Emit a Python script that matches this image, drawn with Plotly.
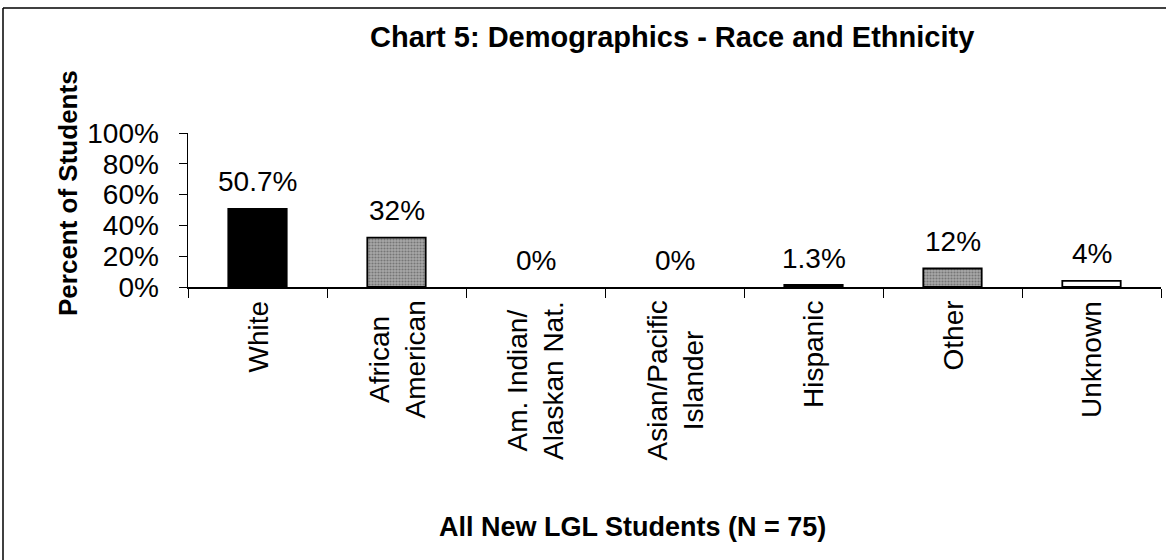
import plotly.graph_objects as go

categories = ["White", "African<br>American", "Am. Indian/<br>Alaskan Nat.", "Asian/Pacific<br>Islander",
              "Hispanic", "Other", "Unknown"]
values = [50.7, 32, 0, 0, 1.3, 12, 4]
labels = ["50.7%", "32%", "0%", "0%", "1.3%", "12%", "4%"]
fills = ["#000000", "#a8a8a8", "#a8a8a8", "#a8a8a8", "#000000", "#a8a8a8", "#ffffff"]
patterns = ["", ".", ".", ".", "", ".", ""]
ytick_vals = [0, 20, 40, 60, 80, 100]
ytick_text = ["0%", "20%", "40%", "60%", "80%", "100%"]

FONT = "Arial, Liberation Sans, sans-serif"

fig = go.Figure()
fig.add_trace(go.Bar(
    x=categories, y=values,
    marker=dict(color=fills, line=dict(color="black", width=[1.8 if v > 0 else 0 for v in values]),
                pattern=dict(shape=patterns, fgcolor="#555555", size=3, solidity=0.4)),
    width=0.42, hoverinfo="skip",
))

for c, v, t in zip(categories, values, labels):
    fig.add_annotation(x=c, y=v, text=t, showarrow=False, xanchor="center", yanchor="middle", yshift=27,
                       font=dict(family=FONT, size=28, color="black"))
    fig.add_annotation(x=c, y=0, text=c, showarrow=False, xanchor="center", yanchor="top", yshift=-12,
                       textangle=-90, align="center", font=dict(family=FONT, size=28, color="black"))

W, H = 1166, 560
L, R, T, B = 188, 1161, 133, 287
pw, ph = R - L, B - T

def px(x):
    return (x - L) / pw

def py(y):
    return (B - y) / ph

fig.add_annotation(xref="paper", yref="paper", x=px(672), y=py(37), xanchor="center", yanchor="middle",
                   text="<b>Chart 5: Demographics - Race and Ethnicity</b>",
                   showarrow=False, font=dict(family=FONT, size=29, color="black"))
fig.add_annotation(xref="paper", yref="paper", x=px(632), y=py(527), xanchor="center", yanchor="middle",
                   text="<b>All New LGL Students (N = 75)</b>",
                   showarrow=False, font=dict(family=FONT, size=27, color="black"))
fig.add_annotation(xref="paper", yref="paper", x=px(68), y=py(193), xanchor="center", yanchor="middle",
                   text="<b>Percent of Students</b>", textangle=-90,
                   showarrow=False, font=dict(family=FONT, size=26, color="black"))

fig.add_shape(type="line", xref="paper", yref="paper", x0=px(3), x1=px(1166), y0=py(8), y1=py(8),
              line=dict(color="black", width=1.5))
fig.add_shape(type="line", xref="paper", yref="paper", x0=px(3), x1=px(3), y0=py(8), y1=py(562),
              line=dict(color="black", width=1.5))

fig.update_layout(
    width=W, height=H,
    margin=dict(l=L, r=W - R, t=T, b=H - B, pad=0),
    paper_bgcolor="white", plot_bgcolor="white",
    showlegend=False,
    font=dict(family=FONT, size=28, color="black"),
    bargap=0.58,
)
fig.update_xaxes(showline=True, linecolor="black", linewidth=1.5, ticks="outside", tickson="boundaries",
                 ticklen=9, tickcolor="black", showticklabels=False, showgrid=False, range=[-0.5, 6.5])
fig.update_yaxes(range=[0, 100], tickvals=ytick_vals, ticktext=ytick_text, showline=True, linecolor="black",
                 linewidth=1.5, ticks="outside", ticklen=8, tickcolor="black", showgrid=False, zeroline=False,
                 ticklabelstandoff=14, tickfont=dict(family=FONT, size=28))

fig.write_html("out.html", post_script="document.body.style.margin='0px';",
               config={"displayModeBar": False, "staticPlot": True})
